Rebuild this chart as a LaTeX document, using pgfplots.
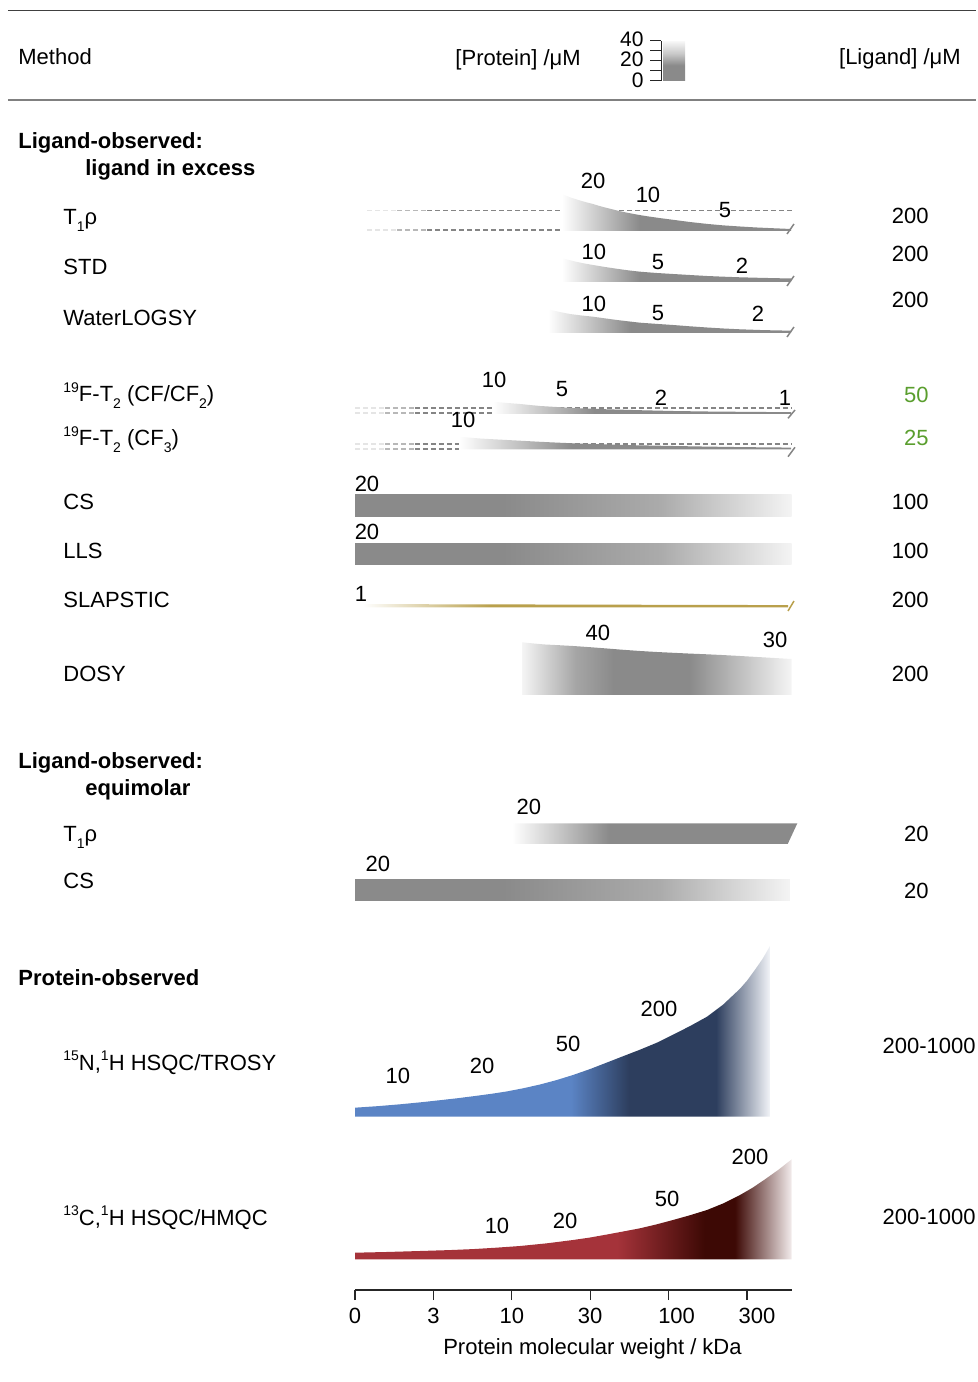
\documentclass[border=0pt]{standalone}
\usepackage{fontspec}
\setmainfont{Liberation Sans}
\usepackage{pgfplots}
\pgfplotsset{compat=1.18}
\usepackage{pgfplotstable}

% small raised / lowered indices
\newcommand\sps[1]{\raisebox{0.42em}{\fontsize{7}{8}\selectfont #1}}
\newcommand\sbs[1]{\raisebox{-0.28em}{\fontsize{7}{8}\selectfont #1}}

% palette
\definecolor{shg}{HTML}{8A8A8A}
\definecolor{shgm}{HTML}{ABABAB}
\definecolor{shgl}{HTML}{F4F4F4}
\definecolor{dshg}{HTML}{858585}
\definecolor{gold}{HTML}{B9A04C}
\definecolor{lgreen}{HTML}{5A9E2E}
\definecolor{nblue}{HTML}{5B84C5}
\definecolor{navy}{HTML}{2D3E5E}
\definecolor{nfade}{HTML}{F2F4F8}
\definecolor{cred}{HTML}{A5333A}
\definecolor{cdark}{HTML}{3D0905}
\definecolor{cfade}{HTML}{F3ECEC}
\definecolor{dfa}{HTML}{F5F5F5}
\definecolor{dfb}{HTML}{A5A5A5}
\definecolor{dfc}{HTML}{C8C8C8}

% horizontal gradients (path spans 25bp..75bp)
\pgfdeclarehorizontalshading{fadein}{100bp}{color(0bp)=(white); color(25bp)=(white); color(42bp)=(shg); color(75bp)=(shg); color(100bp)=(shg)}
\pgfdeclarehorizontalshading{fadeout}{100bp}{color(0bp)=(shg); color(25bp)=(shg); color(42bp)=(shg); color(60bp)=(shgm); color(75bp)=(shgl); color(100bp)=(shgl)}
\pgfdeclarehorizontalshading{dosyfade}{100bp}{color(0bp)=(dfa); color(25bp)=(dfa); color(35bp)=(dfb); color(42bp)=(shg); color(56bp)=(shg); color(67bp)=(dfc); color(75bp)=(dfa); color(100bp)=(dfa)}
\pgfdeclarehorizontalshading{goldfade}{100bp}{color(0bp)=(white); color(25bp)=(white); color(40bp)=(gold); color(75bp)=(gold); color(100bp)=(gold)}
\pgfdeclarehorizontalshading{nfad}{100bp}{color(0bp)=(nblue); color(25bp)=(nblue); color(51bp)=(nblue); color(58bp)=(navy); color(68.5bp)=(navy); color(75bp)=(nfade); color(100bp)=(nfade)}
\pgfdeclarehorizontalshading{cfad}{100bp}{color(0bp)=(cred); color(25bp)=(cred); color(55bp)=(cred); color(65bp)=(cdark); color(68.5bp)=(cdark); color(75bp)=(cfade); color(100bp)=(cfade)}
\pgfdeclareverticalshading{legbar}{100bp}{color(0bp)=(shg); color(25bp)=(shg); color(45bp)=(shg); color(60bp)=(dfc); color(75bp)=(shgl); color(100bp)=(shgl)}

% x: position on the molecular-weight axis (0,3,10,30,100,300 kDa -> 0..5)
% h: band height (concentration scale), drawn up from each row's baseline
\pgfplotstableread{
x h
2.640 37
2.750 33.5
2.870 30.5
2.950 28.7
3.036 27
3.110 25.2
3.189 23.5
3.265 22
3.342 20.5
3.450 18.6
3.571 16.8
3.650 15.7
3.737 14.6
3.900 12.8
4.056 11.2
4.270 9
4.490 7.1
4.700 5.6
4.911 4.5
5.100 3.6
5.293 2.9
5.561 2
5.561 0
2.640 0
}\tTrhoEx
\pgfplotstableread{
x h
2.640 24
2.720 22.2
2.806 20.5
2.920 18.6
3.036 17
3.190 15
3.342 13.2
3.490 11.6
3.635 10.3
3.850 9
4.056 8
4.270 7
4.490 6
4.700 5.3
4.911 4.7
5.200 4.1
5.561 3.5
5.561 0
2.640 0
}\tSTD
\pgfplotstableread{
x h
2.462 23.7
2.600 21.2
2.742 19
2.890 17.5
3.036 16.3
3.190 14.6
3.342 13
3.490 11.6
3.635 10.3
3.850 9.1
4.056 8
4.270 6.7
4.490 5.5
4.700 4.5
4.911 3.7
5.200 2.9
5.561 2.3
5.561 0
2.462 0
}\tWL
\pgfplotstableread{
x h
1.760 12.3
1.930 11.1
2.105 10
2.230 9
2.360 8
2.570 7
2.781 6
3.000 5.3
3.214 4.7
3.630 3.8
4.056 3
4.490 2.5
4.911 2.2
5.561 1.8
5.561 0
1.760 0
}\tFCF
\pgfplotstableread{
x h
1.327 12.8
1.460 11.9
1.594 11
1.770 10.2
1.939 9.5
2.150 8.6
2.360 7.7
2.570 6.9
2.781 6.2
3.100 5.3
3.418 4.5
3.740 4
4.056 3.5
4.490 2.9
4.911 2.4
5.561 1.9
5.561 0
1.327 0
}\tFCFthree
\pgfplotstableread{
x h
0.000 21.7
5.570 21.7
5.570 0
0.000 0
}\tCS
\pgfplotstableread{
x h
0.000 21
5.570 21
5.570 0
0.000 0
}\tLLS
\pgfplotstableread{
x h
0.102 3.4
5.523 2.4
5.523 0
0.102 0
}\tSLAP
\pgfplotstableread{
x h
2.130 52.7
2.280 51.5
2.423 50.5
2.600 49.8
2.781 49
3.000 47.8
3.214 46.5
3.420 45.2
3.635 44
3.850 43
4.056 42.2
4.270 41.4
4.490 40.7
4.700 39.9
4.911 39
5.240 37.5
5.570 36
5.570 0
2.130 0
}\tDOSY
\pgfplotstableread{
x h
2.003 20.7
5.642 20.7
5.519 0
2.003 0
}\tTrhoEq
\pgfplotstableread{
x h
0.000 21
5.548 21
5.548 0
0.000 0
}\tCSEq
\pgfplotstableread{
x h
0.000 9
0.300 10.6
0.574 12.4
0.850 14.5
1.084 16.5
1.300 18.4
1.531 20.7
1.750 23
1.939 25.3
2.150 28.5
2.360 32.2
2.570 36.6
2.781 41.7
3.000 47.7
3.214 54.2
3.420 60.5
3.635 67
3.850 74
4.056 82
4.270 90.5
4.490 100
4.694 112
4.911 128
5.000 136
5.102 147
5.200 158
5.293 170.7
5.293 0
0.000 0
}\tTROSY
\pgfplotstableread{
x h
0.000 6.6
0.400 7.3
0.829 8.3
1.200 9.2
1.505 10.2
1.800 11.6
2.105 13.3
2.450 16
2.781 19.3
3.000 21.8
3.214 24.8
3.420 27.8
3.635 31
3.850 35
4.056 39.3
4.270 44
4.490 49.3
4.700 56
4.911 64.3
5.070 71.5
5.230 80
5.400 89.5
5.570 100
5.570 0
0.000 0
}\tHMQC

\begin{document}
\begin{tikzpicture}[
  lbl/.style={font=\fontsize{11}{13}\selectfont, inner sep=0pt},
  num/.style={lbl, anchor=center},
  rv/.style={lbl, anchor=east},
  meth/.style={lbl, anchor=base west},
  hd/.style={lbl, anchor=base west, font=\fontsize{11}{13}\selectfont\bfseries},
]
\begin{axis}[
  scale only axis, width=218.35pt, height=645pt,
  xmin=0, xmax=5.57, ymin=-1290, ymax=0,
  axis x line*=bottom, axis y line=none,
  clip=false,
  xtick={0,1,2,3,4,5},
  xticklabels={0,3,10,30,\hspace*{8pt}100,\hspace*{10pt}300},
  tick align=outside, major tick length=5pt,
  x axis line style={line width=0.6pt, color=black!85},
  xtick style={line width=0.6pt, color=black!85},
  xticklabel style={font=\fontsize{11}{13}\selectfont, inner sep=0pt, anchor=north, yshift=-4pt},
  dsh/.style={line width=0.8pt, dash pattern=on 2.5pt off 1.5pt},
  etick/.style={line width=0.75pt, color=dshg},
  band/.style={draw=none, shade},
]
% picture extent
\path (-4.528,0) rectangle (7.946,-1382);

% header rules and titles
\draw[line width=0.5pt, color=black!75] (-4.426,-10.7) -- (7.921,-10.7);
\draw[line width=1pt, color=black!50] (-4.426,-99.7) -- (7.921,-99.7);
\node[meth] at (-4.298,-65) {Method};
\node[lbl, anchor=base east] at (2.883,-66) {[Protein] /μM};
\node[lbl, anchor=base east] at (7.730,-65) {[Ligand] /μM};

% concentration key
\fill[shading=legbar] (3.929,-42) rectangle (4.209,-81);
\draw[line width=0.5pt, color=black!85] (3.903,-41) -- (3.903,-81);
\draw[line width=0.5pt, color=black!85] (3.763,-41) -- (3.903,-41);
\draw[line width=0.5pt, color=black!85] (3.763,-51) -- (3.903,-51);
\draw[line width=0.5pt, color=black!85] (3.763,-61) -- (3.903,-61);
\draw[line width=0.5pt, color=black!85] (3.763,-71) -- (3.903,-71);
\draw[line width=0.5pt, color=black!85] (3.763,-81) -- (3.903,-81);
\node[lbl, anchor=east, font=\fontsize{10.5}{12}\selectfont] at (3.686,-39) {40};
\node[lbl, anchor=east, font=\fontsize{10.5}{12}\selectfont] at (3.686,-59) {20};
\node[lbl, anchor=east, font=\fontsize{10.5}{12}\selectfont] at (3.686,-80) {0};

% ---- Ligand-observed: ligand in excess ----
\node[hd] at (-4.298,-149) {Ligand-observed:};
\node[hd] at (-3.444,-176) {ligand in excess};

% T1rho
\addplot[dsh, color=black!10] coordinates {(0.153,-210.7) (0.536,-210.7)};
\addplot[dsh, color=black!28] coordinates {(0.536,-210.7) (0.919,-210.7)};
\addplot[dsh, color=dshg] coordinates {(0.919,-210.7) (5.574,-210.7)};
\addplot[dsh, color=black!10] coordinates {(0.153,-230) (0.536,-230)};
\addplot[dsh, color=black!28] coordinates {(0.536,-230) (0.919,-230)};
\addplot[dsh, color=dshg] coordinates {(0.919,-230) (2.640,-230)};
\addplot[band, shading=fadein] table[x=x, y expr=\thisrow{h}-231] {\tTrhoEx};
\addplot[etick] coordinates {(5.510,-234) (5.599,-224)};
\node[meth] at (-3.724,-225) {T\sbs{1}ρ};
\node[num] at (3.036,-181) {20};
\node[num] at (3.737,-195) {10};
\node[num] at (4.719,-210) {5};
\node[rv] at (7.321,-216) {200};

% STD
\addplot[band, shading=fadein] table[x=x, y expr=\thisrow{h}-282] {\tSTD};
\addplot[etick] coordinates {(5.510,-286) (5.599,-276)};
\node[meth] at (-3.724,-275) {STD};
\node[num] at (3.048,-252) {10};
\node[num] at (3.865,-262) {5};
\node[num] at (4.936,-266) {2};
\node[rv] at (7.321,-254) {200};

% WaterLOGSY
\addplot[band, shading=fadein] table[x=x, y expr=\thisrow{h}-333] {\tWL};
\addplot[etick] coordinates {(5.510,-337) (5.599,-327)};
\node[meth] at (-3.724,-326) {WaterLOGSY};
\node[num] at (3.048,-304) {10};
\node[num] at (3.865,-313) {5};
\node[num] at (5.140,-314) {2};
\node[rv] at (7.321,-300) {200};

% 19F-T2 (CF/CF2)
\addplot[dsh, color=black!10] coordinates {(0,-408.3) (0.383,-408.3)};
\addplot[dsh, color=black!28] coordinates {(0.383,-408.3) (0.765,-408.3)};
\addplot[dsh, color=dshg] coordinates {(0.765,-408.3) (5.574,-408.3)};
\addplot[dsh, color=black!10] coordinates {(0,-413.3) (0.383,-413.3)};
\addplot[dsh, color=black!28] coordinates {(0.383,-413.3) (0.765,-413.3)};
\addplot[dsh, color=dshg] coordinates {(0.765,-413.3) (1.760,-413.3)};
\addplot[band, shading=fadein] table[x=x, y expr=\thisrow{h}-414] {\tFCF};
\addplot[etick] coordinates {(5.523,-418.3) (5.612,-410)};
\node[meth] at (-3.724,-402) {\sps{19}F-T\sbs{2} (CF/CF\sbs{2})};
\node[num] at (1.773,-380) {10};
\node[num] at (2.640,-389) {5};
\node[num] at (3.903,-398) {2};
\node[num] at (5.485,-398) {1};
\node[rv, text=lgreen] at (7.321,-395) {50};

% 19F-T2 (CF3)
\addplot[dsh, color=black!10] coordinates {(0,-444.3) (0.383,-444.3)};
\addplot[dsh, color=black!28] coordinates {(0.383,-444.3) (0.765,-444.3)};
\addplot[dsh, color=dshg] coordinates {(0.765,-444.3) (5.574,-444.3)};
\addplot[dsh, color=black!10] coordinates {(0,-449.3) (0.383,-449.3)};
\addplot[dsh, color=black!28] coordinates {(0.383,-449.3) (0.765,-449.3)};
\addplot[dsh, color=dshg] coordinates {(0.765,-449.3) (1.327,-449.3)};
\addplot[band, shading=fadein] table[x=x, y expr=\thisrow{h}-449.5] {\tFCFthree};
\addplot[etick] coordinates {(5.523,-456.7) (5.612,-447.3)};
\node[meth] at (-3.724,-446) {\sps{19}F-T\sbs{2} (CF\sbs{3})};
\node[num] at (1.378,-420) {10};
\node[rv, text=lgreen] at (7.321,-438) {25};

% CS
\addplot[band, shading=fadeout] table[x=x, y expr=\thisrow{h}-516.7] {\tCS};
\node[meth] at (-3.724,-510) {CS};
\node[num] at (0.153,-484) {20};
\node[rv] at (7.321,-502) {100};

% LLS
\addplot[band, shading=fadeout] table[x=x, y expr=\thisrow{h}-565] {\tLLS};
\node[meth] at (-3.724,-559) {LLS};
\node[num] at (0.153,-532) {20};
\node[rv] at (7.321,-551) {100};

% SLAPSTIC
\addplot[band, shading=goldfade] table[x=x, y expr=\thisrow{h}-607.5] {\tSLAP};
\addplot[line width=0.75pt, color=gold] coordinates {(5.523,-611) (5.599,-601)};
\node[meth] at (-3.724,-608) {SLAPSTIC};
\node[num] at (0.077,-594) {1};
\node[rv] at (7.321,-600) {200};

% DOSY
\addplot[band, shading=dosyfade] table[x=x, y expr=\thisrow{h}-695] {\tDOSY};
\node[meth] at (-3.724,-682) {DOSY};
\node[num] at (3.099,-633) {40};
\node[num] at (5.357,-640) {30};
\node[rv] at (7.321,-674) {200};

% ---- Ligand-observed: equimolar ----
\node[hd] at (-4.298,-769) {Ligand-observed:};
\node[hd] at (-3.444,-796) {equimolar};

\addplot[band, shading=fadein] table[x=x, y expr=\thisrow{h}-844] {\tTrhoEq};
\node[meth] at (-3.724,-842) {T\sbs{1}ρ};
\node[num] at (2.219,-807) {20};
\node[rv] at (7.321,-834) {20};

\addplot[band, shading=fadeout] table[x=x, y expr=\thisrow{h}-901] {\tCSEq};
\node[meth] at (-3.724,-889) {CS};
\node[num] at (0.293,-864) {20};
\node[rv] at (7.321,-891) {20};

% ---- Protein-observed ----
\node[hd] at (-4.298,-986) {Protein-observed};

\addplot[band, shading=nfad] table[x=x, y expr=\thisrow{h}-1116.7] {\tTROSY};
\node[meth] at (-3.724,-1070) {\sps{15}N,\sps{1}H HSQC/TROSY};
\node[num] at (0.548,-1076) {10};
\node[num] at (1.620,-1066) {20};
\node[num] at (2.717,-1044) {50};
\node[num] at (3.878,-1009) {200};
\node[rv] at (7.921,-1046) {200-1000};

\addplot[band, shading=cfad] table[x=x, y expr=\thisrow{h}-1259.3] {\tHMQC};
\node[meth] at (-3.724,-1225) {\sps{13}C,\sps{1}H HSQC/HMQC};
\node[num] at (1.811,-1226) {10};
\node[num] at (2.679,-1221) {20};
\node[num] at (3.980,-1199) {50};
\node[num] at (5.038,-1157) {200};
\node[rv] at (7.921,-1217) {200-1000};

% axis title
\node[lbl, anchor=center] at (3.029,-1349) {Protein molecular weight / kDa};
\end{axis}
\end{tikzpicture}
\end{document}
